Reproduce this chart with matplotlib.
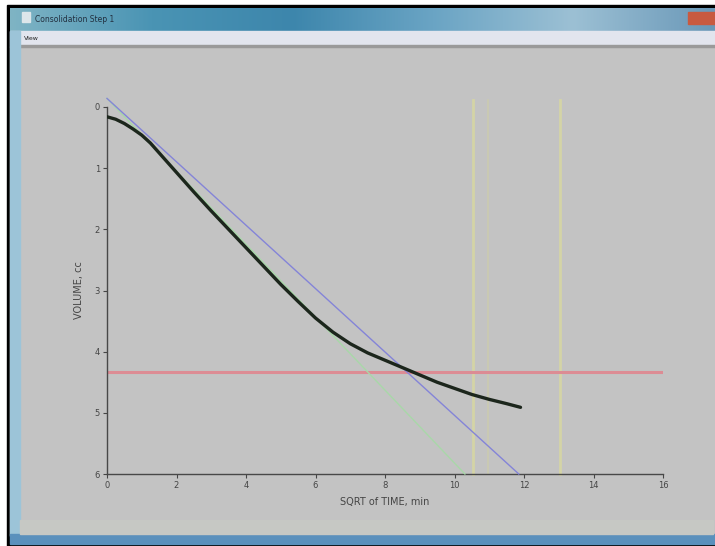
import numpy as np
import matplotlib
matplotlib.use("Agg")
import matplotlib.pyplot as plt
from matplotlib.patches import Rectangle

# measured curve: volume change vs square root of time
sqrt_time = [0, 0.25, 0.5, 0.75, 1.0, 1.25, 1.5, 1.75, 2.0, 2.5, 3.0, 3.5, 4.0,
             4.5, 5.0, 5.5, 6.0, 6.5, 7.0, 7.5, 8.0, 8.5, 9.0, 9.5, 10.0, 10.5,
             11.0, 11.5, 11.9]
volume = [0.16, 0.20, 0.27, 0.36, 0.46, 0.59, 0.75, 0.91, 1.07, 1.39, 1.70, 2.00,
          2.30, 2.60, 2.90, 3.18, 3.45, 3.68, 3.87, 4.02, 4.14, 4.26, 4.38, 4.50,
          4.60, 4.70, 4.78, 4.85, 4.91]

# Taylor construction lines (tangent and 1.15x line from corrected zero)
tangent_x = [0, 10.3]
tangent_y = [-0.14, 6]
offset_x = [0, 11.85]
offset_y = [-0.14, 6]
red_level = 4.33
yellow_x = [10.54, 13.04]
faint_x = [10.97]

xticks = [0, 2, 4, 6, 8, 10, 12, 14, 16]
yticks = [0, 1, 2, 3, 4, 5, 6]

W, H = 715, 546
fig = plt.figure(figsize=(W / 100, H / 100), dpi=100)
fig.patch.set_facecolor('white')

# window chrome, drawn in pixel coords
bg = fig.add_axes([0, 0, 1, 1])
bg.set_xlim(0, W)
bg.set_ylim(H, 0)
bg.axis('off')
bg.add_patch(Rectangle((7, 5), W - 7, H - 5, color='black'))
bg.add_patch(Rectangle((10, 46), W - 10, 489, color='#c3c3c3'))
# title bar gradient
grad = np.linspace(0, 1, 256).reshape(1, -1)
cmap = matplotlib.colors.LinearSegmentedColormap.from_list(
    'tb', ['#7fb4c4', '#4a94b4', '#3d86ac', '#6aa4c4', '#9cc0d4', '#6a98b8'])
bg.imshow(grad, extent=(10, W, 31, 8), aspect='auto', cmap=cmap, zorder=1)
bg.add_patch(Rectangle((688, 12), 27, 12, color='#c85a40', zorder=2))
bg.add_patch(Rectangle((10, 31), W - 10, 14, color='#e2e5ee', zorder=2))
bg.add_patch(Rectangle((10, 45), W - 10, 2, color='#9a9a9a', zorder=2))
bg.add_patch(Rectangle((10, 31), 10, 505, color='#9cc4d8', zorder=2))
bg.add_patch(Rectangle((10, 534), W - 10, 10, color='#5a90bc', zorder=2))
bg.add_patch(Rectangle((20, 520), W - 22, 14, color='#c6c8c4', zorder=2))
bg.add_patch(Rectangle((22, 12), 8, 10, color='#dde6ea', zorder=3))
bg.text(35, 19, 'Consolidation Step 1', fontsize=5.5, color='#223040',
        va='center', zorder=3)
bg.text(24, 38.5, 'View', fontsize=4.5, color='#202020', va='center', zorder=3)

ax = fig.add_axes([107 / W, 1 - 474 / H, 556 / W, 367 / H])
ax.set_facecolor('none')

for x in faint_x:
    ax.plot([x, x], [-0.12, 6], color='#cbcbb0', lw=1.2, clip_on=False, zorder=1)
for x in yellow_x:
    ax.plot([x, x], [-0.12, 6], color='#d4d4a6', lw=2.0, clip_on=False, zorder=1)

ax.plot([0, 16], [red_level, red_level], color='#dc8c94', lw=2.2, zorder=2)
ax.plot(tangent_x, tangent_y, color='#a8d8a8', lw=1.0, zorder=3, clip_on=False)
ax.plot(offset_x, offset_y, color='#8484d8', lw=1.0, zorder=3, clip_on=False)
ax.plot(sqrt_time, volume, color='#1c261c', lw=2.4, zorder=4,
        solid_capstyle='round')

ax.set_xlim(0, 16)
ax.set_ylim(6, 0)
ax.set_xticks(xticks)
ax.set_yticks(yticks)
ax.tick_params(direction='out', length=3, width=0.8, colors='#454545',
               labelsize=6, pad=2)
for s in ['top', 'right']:
    ax.spines[s].set_visible(False)
for s in ['left', 'bottom']:
    ax.spines[s].set_color('#484848')
    ax.spines[s].set_linewidth(1.0)
ax.set_xlabel('SQRT of TIME, min', fontsize=7, color='#454545', labelpad=5)
ax.set_ylabel('VOLUME, cc', fontsize=7, color='#454545', labelpad=8)

fig.savefig('out.png', dpi=100)
